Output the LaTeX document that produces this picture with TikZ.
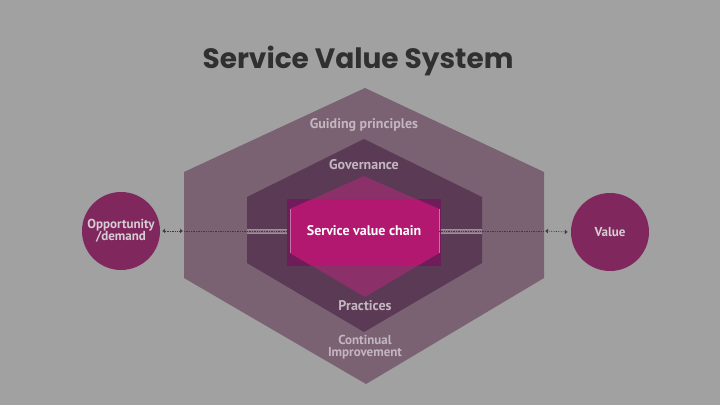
\documentclass[tikz,border=0pt]{standalone}
\usepackage{fontspec}
\setmainfont{PT Sans}
\newfontfamily\titlefont{Poppins}
\usetikzlibrary{arrows.meta}

\definecolor{bggray}{HTML}{A1A1A1}
\definecolor{titlegray}{HTML}{303030}
\definecolor{outerhex}{HTML}{7A6272}
\definecolor{midhex}{HTML}{5A3A55}
\definecolor{chainbox}{HTML}{6E1C5A}
\definecolor{innerhex}{HTML}{8C3069}
\definecolor{chainband}{HTML}{B21870}
\definecolor{circfill}{HTML}{80285E}
\definecolor{labelgray}{HTML}{C4B6C0}
\definecolor{linkdark}{HTML}{4A3446}

\tikzset{
  lbl/.style={font=\bfseries\fontsize{14}{11.5}\selectfont, text=labelgray, inner sep=0pt},
  endpoint/.style={circle, fill=circfill, minimum size=78pt, inner sep=0pt, align=center,
    font=\bfseries\fontsize{13}{12.5}\selectfont, text=labelgray!70!white},
  link/.style={linkdark, densely dotted, line width=0.7pt},
  rail/.style={labelgray!50!outerhex, line width=0.4pt}
}

\begin{document}
\begin{tikzpicture}[x=1pt,y=-1pt]
	\fill[bggray] (0,0) rectangle (720,405);
	\useasboundingbox (0,0) rectangle (720,405);
	\node[font=\titlefont\bfseries\fontsize{28}{28}\selectfont, text=titlegray] (title) at (358,61) {Service Value System};
	% hexagons, outside in
	\fill[outerhex] (365,88) -- (544,172) -- (544,278) -- (366,384) -- (184,278) -- (184,172) -- cycle;
	\fill[midhex] (364,139) -- (482,197) -- (482,263) -- (364,332) -- (247,263) -- (247,197) -- cycle;
	\fill[outerhex!85!white] (247,229.5) rectangle (482,233.5);
	\draw[rail] (247,229.5) -- (482,229.5) (247,233.5) -- (482,233.5);
	\fill[chainbox] (287,199) rectangle (441,266);
	\fill[innerhex] (364,176) -- (439,209) -- (439,253) -- (365,297) -- (290,253) -- (290,209) -- cycle;
	\begin{scope}
		\clip (287,199) rectangle (441,265);
		\fill[chainband] (364,176) -- (439,209) -- (439,253) -- (365,297) -- (290,253) -- (290,209) -- cycle;
	\end{scope}
	\draw[labelgray!60!chainband, line width=0.6pt] (290,209) -- (290,253) (439,209) -- (439,253);
	%\draw[red] (287,199) rectangle (441,266);
	% labels
	\node[lbl] (guiding) at (364,125) {Guiding principles};
	\node[lbl] (gov) at (364,165) {Governance};
	\node[lbl, text=white] (chain) at (364,231) {Service value chain};
	\node[lbl] (prac) at (365,306) {Practices};
	\node[lbl, align=center, font=\bfseries\fontsize{13}{12.5}\selectfont] (cont) at (365,347) {Continual\\Improvement};
	% ends
	\node[endpoint] (opp) at (121,231) {Opportunity\\/demand};
	\node[endpoint] (val) at (610,232) {Value};
	\coordinate (lside) at (184,231);
	\coordinate (rside) at (544,231);
	\coordinate (chainw) at (290,231);
	\coordinate (chaine) at (439,231);
	\draw[link, {Latex[length=3pt,width=5pt]}-{Latex[length=3pt,width=5pt]}] ([xshift=2pt]opp.east) -- ([xshift=-1pt]lside);
	\draw[link, {Latex[length=3pt,width=5pt]}-{Latex[length=3pt,width=5pt]}] ([xshift=1pt]rside) -- ([xshift=-3pt]val.west);
	\draw[link] (lside) -- (chainw);
	\draw[link] (chaine) -- (rside);
\end{tikzpicture}
\end{document}
